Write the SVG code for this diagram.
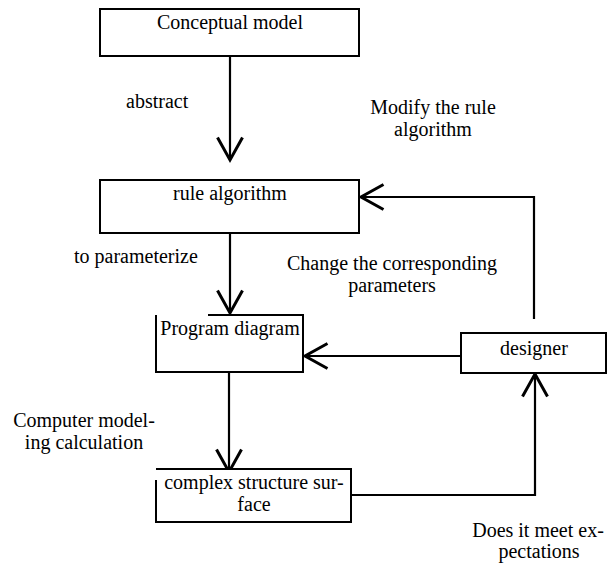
<svg xmlns="http://www.w3.org/2000/svg" width="607" height="565" viewBox="0 0 607 565">
<style>
.box{fill:#fff;stroke:#000;stroke-width:2}
.ln{fill:none;stroke:#000;stroke-width:2.2}
.t{font-family:"Liberation Serif",Tinos,"Times New Roman",Times,"DejaVu Serif",serif;font-size:20px;fill:#000}
.c{text-anchor:middle}
</style>
<defs>
<marker id="ah" markerUnits="userSpaceOnUse" markerWidth="30" markerHeight="30" viewBox="-20 -12 22 24" refX="0" refY="0" orient="auto" overflow="visible">
<path d="M-18,-10 L0,0 L-18,10" fill="none" stroke="#000" stroke-width="2.4"/>
</marker>
</defs>
<rect width="607" height="565" fill="#fff"/>
<g id="connectors">
<path class="ln" d="M230,56 V160" marker-end="url(#ah)"/>
<path class="ln" d="M230,233 V313" marker-end="url(#ah)"/>
<path class="ln" d="M229,372 V472" marker-end="url(#ah)"/>
<path class="ln" d="M461,356 H305" marker-end="url(#ah)"/>
<path class="ln" d="M534,319 V197 H361" marker-end="url(#ah)"/>
<path class="ln" d="M351,495 H535 V374" marker-end="url(#ah)"/>
</g>
<g id="conceptual">
<rect class="box" x="100" y="9" width="259" height="47"/>
<text class="t c" x="230" y="29">Conceptual model</text>
</g>
<g id="rule">
<rect class="box" x="100" y="180" width="259" height="53"/>
<text class="t c" x="230" y="200">rule algorithm</text>
</g>
<g id="program">
<path class="box" d="M208,315 H303 V372 H156 V315"/>
<text class="t c" x="230" y="335">Program diagram</text>
</g>
<g id="complex">
<path class="box" d="M156,480 V522 H351 V469 H156"/>
<text class="t c" x="254" y="489">complex structure sur-</text>
<text class="t c" x="254" y="511">face</text>
</g>
<g id="designer">
<rect class="box" x="461" y="333" width="145" height="40"/>
<text class="t c" x="534" y="355">designer</text>
</g>
<g id="labels">
<text class="t" x="126" y="108">abstract</text>
<text class="t" x="74" y="263">to parameterize</text>
<text class="t c" x="84" y="427">Computer model-</text>
<text class="t c" x="84" y="449">ing calculation</text>
<text class="t c" x="433" y="114">Modify the rule</text>
<text class="t c" x="433" y="136">algorithm</text>
<text class="t c" x="392" y="270">Change the corresponding</text>
<text class="t c" x="392" y="292">parameters</text>
<text class="t c" x="538" y="537">Does it meet ex-</text>
<text class="t c" x="539" y="558">pectations</text>
</g>
</svg>
